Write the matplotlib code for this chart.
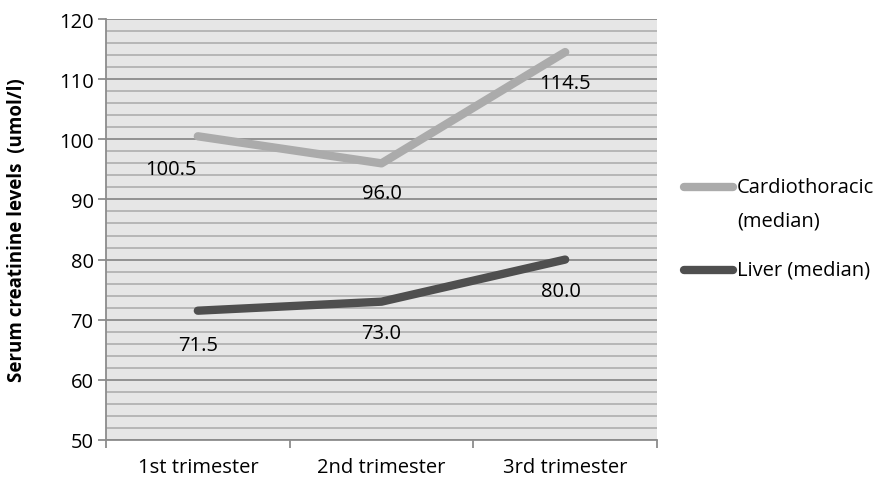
import matplotlib.pyplot as plt
from matplotlib.ticker import MultipleLocator

plt.rcParams['font.family'] = ['Open Sans', 'DejaVu Sans']

trimestres = ["1st trimester", "2nd trimester", "3rd trimester"]
cardio = [100.5, 96.0, 114.5]
liver = [71.5, 73.0, 80.0]
series_names = ["Cardiothoracic", "(median)", "Liver (median)"]

fs = 14.5

fig = plt.figure(figsize=(8.8, 4.81), dpi=100)
ax = fig.add_axes([106 / 880, 1 - 441 / 481, 551 / 880, 421 / 481])
ax.set_facecolor("#e6e6e6")

x = [0, 1, 2]
ax.plot(x, cardio, color="#ababab", lw=6, solid_capstyle="round", zorder=3)
ax.plot(x, liver, color="#4f4f4f", lw=6, solid_capstyle="round", zorder=3)

# rótulos de dados (abaixo dos pontos), deslocamento em pixels
offsets_c = [(-27, -33), (0, -30), (0, -31)]
for xi, v, off in zip(x, cardio, offsets_c):
    ax.annotate(f"{v:.1f}", (xi, v), xytext=off, textcoords="offset pixels",
                ha="center", va="center", fontsize=fs, zorder=4)
offsets_l = [(0, -34), (0, -31), (-4, -31)]
for xi, v, off in zip(x, liver, offsets_l):
    ax.annotate(f"{v:.1f}", (xi, v), xytext=off, textcoords="offset pixels",
                ha="center", va="center", fontsize=fs, zorder=4)

ax.set_xlim(-0.5, 2.5)
ax.set_ylim(50, 120)
ax.yaxis.set_major_locator(MultipleLocator(10))
ax.yaxis.set_minor_locator(MultipleLocator(2))
ax.grid(which="major", axis="y", color="#8c8c8c", lw=1.3, zorder=1)
ax.grid(which="minor", axis="y", color="#b3b3b3", lw=1.3, zorder=1)
ax.tick_params(axis="y", which="minor", length=0)
ax.tick_params(axis="y", which="major", length=6, width=1.3, color="#8c8c8c", labelsize=fs, pad=3)

ax.set_xticks([-0.5, 0.5, 1.5, 2.5])
ax.set_xticklabels([])
ax.set_xticks(x, minor=True)
ax.set_xticklabels(trimestres, minor=True, fontsize=fs)
ax.tick_params(axis="x", which="major", length=6, width=1.3, color="#8c8c8c")
ax.tick_params(axis="x", which="minor", length=0, pad=12)

for s in ["top", "right"]:
    ax.spines[s].set_visible(False)
for s in ["left", "bottom"]:
    ax.spines[s].set_color("#8c8c8c")
    ax.spines[s].set_linewidth(1.3)

ax.set_ylabel("Serum creatinine levels  (umol/l)", fontsize=13.5, fontweight="bold")
ax.yaxis.set_label_coords(-79 / 551, 0.5)

# legenda
fig.text(737 / 880, 1 - 188 / 481, series_names[0], fontsize=fs, va="center")
fig.text(737 / 880, 1 - 222 / 481, series_names[1], fontsize=fs, va="center")
fig.text(737 / 880, 1 - 271 / 481, series_names[2], fontsize=fs, va="center")
fig.add_artist(plt.Line2D([684 / 880, 733 / 880], [1 - 188 / 481] * 2, color="#ababab", lw=6,
                          solid_capstyle="round"))
fig.add_artist(plt.Line2D([684 / 880, 733 / 880], [1 - 271 / 481] * 2, color="#4f4f4f", lw=6,
                          solid_capstyle="round"))

fig.savefig("out.png", dpi=100)
